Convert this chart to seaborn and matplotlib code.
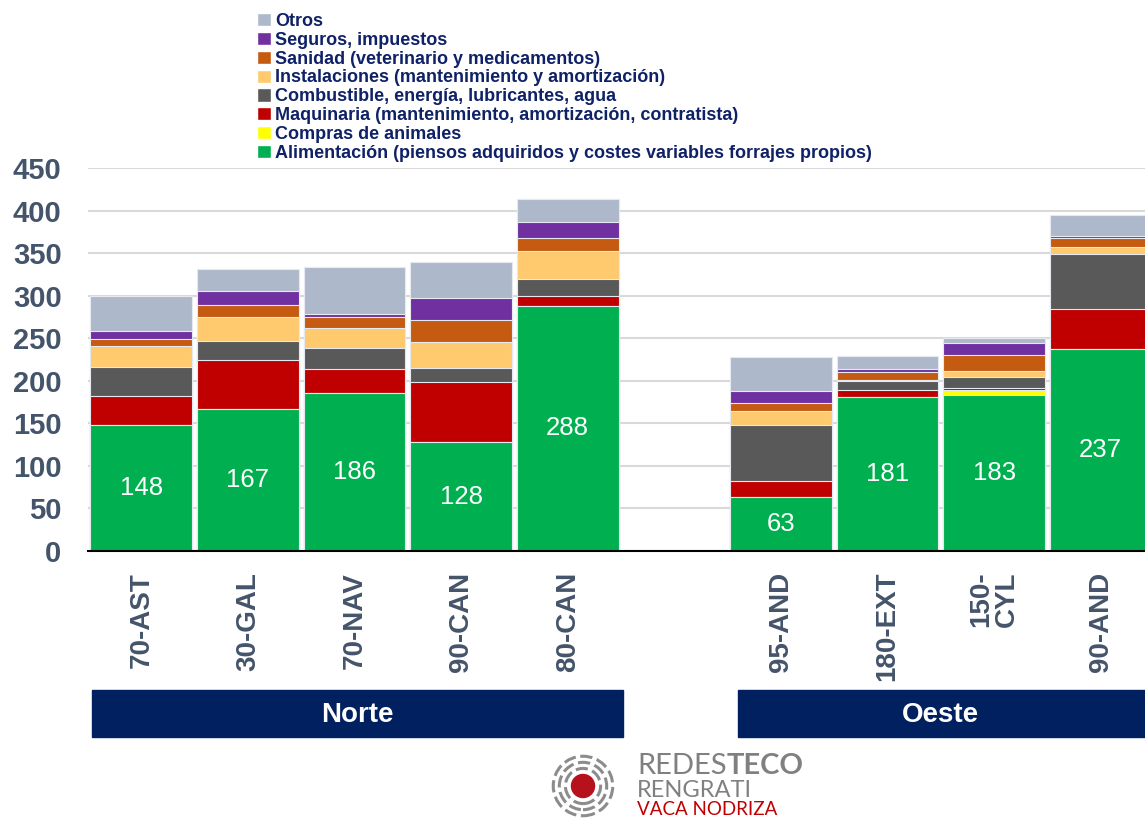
import numpy as np
import pandas as pd
import seaborn as sns
import matplotlib.pyplot as plt
import matplotlib.transforms as mtransforms
from matplotlib.patches import Patch, Rectangle, Circle

# Data - one empty slot between the two regions
sites = ['70-AST', '30-GAL', '70-NAV', '90-CAN', '80-CAN', ' ', '95-AND', '180-EXT', '150-\nCYL', '90-AND']
alimentacion = [148, 167, 186, 128, 288, 0, 63, 181, 183, 237]
compras = [0, 0, 0, 0, 0, 0, 0, 0, 6, 0]
maquinaria = [34, 58, 28, 70, 12, 0, 19, 8, 3, 47]
combustible = [34, 22, 24, 17, 19, 0, 66, 11, 13, 65]
instalaciones = [25, 28, 24, 31, 34, 0, 16, 1, 7, 8]
sanidad = [8, 14, 13, 25, 15, 0, 10, 9, 18, 11]
seguros = [10, 16, 3, 26, 18, 0, 14, 4, 14, 2]
otros = [41, 26, 56, 42, 27, 0, 40, 15, 6, 25]

series_names = ['Alimentación (piensos adquiridos y costes variables forrajes propios)',
                'Compras de animales',
                'Maquinaria (mantenimiento, amortización, contratista)',
                'Combustible, energía, lubricantes, agua',
                'Instalaciones (mantenimiento y amortización)',
                'Sanidad (veterinario y medicamentos)',
                'Seguros, impuestos',
                'Otros']
colors = ['#00B050', '#FFFF00', '#C00000', '#595959', '#FFC96E', '#C55A11', '#7030A0', '#ADB9CA']

groups = ['Norte', 'Oeste']

df = pd.DataFrame({'site': sites})
for name, vals in zip(series_names, [alimentacion, compras, maquinaria, combustible,
                                     instalaciones, sanidad, seguros, otros]):
    df[name] = vals
cum = df[series_names].cumsum(axis=1)
cum['site'] = df['site']

sns.set_style('white')
plt.rcParams['font.family'] = ['Liberation Sans', 'DejaVu Sans']

fig = plt.figure(figsize=(11.45, 8.19), dpi=100)
ax = fig.add_axes([88 / 1145, 268 / 819, 1066 / 1145, 383 / 819])

# stacked bars: draw cumulative totals from top to bottom
for name, c in reversed(list(zip(series_names, colors))):
    sns.barplot(data=cum, x='site', y=name, order=sites, color=c, saturation=1,
                width=0.955, edgecolor='#E6EAF0', linewidth=0.8, errorbar=None, ax=ax)

green = ax.containers[-1]
ax.bar_label(green, labels=[str(v) if v > 0 else '' for v in alimentacion],
             label_type='center', color='white', fontsize=18.5)

ax.set_xlim(-0.5, 9.5)
ax.set_ylim(0, 450)
ax.set_yticks(np.arange(0, 451, 50))
ax.tick_params(axis='y', length=0, pad=19, labelsize=21, labelcolor='#44546A')
for t in ax.get_yticklabels():
    t.set_fontweight('bold')

ax.set_xticks(np.arange(-0.5, 10, 1))
ax.set_xticklabels([])
ax.tick_params(axis='x', which='major', length=8, width=1, color='black', direction='out')
ax.set_xticks(range(len(sites)), minor=True)
ax.set_xticklabels(sites, minor=True, rotation=90, fontsize=20, fontweight='bold',
                   color='#44546A', va='top', ha='center', multialignment='center',
                   linespacing=1.0)
ax.tick_params(axis='x', which='minor', length=0, pad=15)

ax.set_xlabel('')
ax.set_ylabel('')
ax.yaxis.grid(True, color='#D9D9D9', lw=1.5)
ax.set_axisbelow(True)
for s in ['left', 'top', 'right']:
    ax.spines[s].set_visible(False)
ax.spines['bottom'].set_color('black')
ax.spines['bottom'].set_linewidth(1.5)

# legend
handles = [Patch(facecolor=c, label=n) for n, c in zip(series_names, colors)][::-1]
fig.legend(handles=handles, loc='upper left', bbox_to_anchor=(257 / 1145, 1 - 13 / 819),
           frameon=False, prop={'weight': 'bold', 'size': 13}, labelcolor='#0F2167',
           handlelength=0.75, handleheight=0.75, handletextpad=0.25, labelspacing=0.1,
           borderpad=0, borderaxespad=0)

# region boxes under the tick labels
trans = mtransforms.blended_transform_factory(ax.transData, fig.transFigure)
for g, (x0, x1) in zip(groups, [(-0.46, 4.52), (5.6, 9.7)]):
    ax.add_patch(Rectangle((x0, 82 / 819), x1 - x0, 47 / 819, transform=trans,
                           color='#002060', clip_on=False))
xc = {'Norte': 2.03, 'Oeste': 7.5}
for g in groups:
    ax.text(xc[g], 104 / 819, g, transform=trans, ha='center', va='center',
            color='white', fontsize=20, fontweight='bold')

# logo
lax = fig.add_axes([551 / 1145, 1 / 819, 64 / 1145, 64 / 819])
lax.set_xlim(-1, 1)
lax.set_ylim(-1, 1)
lax.set_aspect('equal')
lax.axis('off')
lax.add_patch(Circle((0, 0), 0.36, color='#B5121B'))
for r in [0.55, 0.74, 0.93]:
    lax.add_patch(Circle((0, 0), r, fill=False, ec='#8C8C8C', lw=2.2, ls=(0, (4, 1.5))))

t1 = fig.text(637 / 1145, 1 - 774 / 819, 'REDES', fontsize=21, color='#808080',
              family=['Lato', 'DejaVu Sans'])
ax.annotate('TECO', xy=(1, 0), xycoords=t1, fontsize=21, color='#808080',
            family=['Lato', 'DejaVu Sans'], fontweight='bold', va='bottom', annotation_clip=False)
fig.text(637 / 1145, 1 - 797 / 819, 'RENGRATI', fontsize=17, color='#808080',
         family=['Lato', 'DejaVu Sans'])
fig.text(637 / 1145, 1 - 815 / 819, 'VACA NODRIZA', fontsize=13.5, color='#C00000',
         family=['Lato', 'DejaVu Sans'])

fig.savefig('out.png', dpi=100)
